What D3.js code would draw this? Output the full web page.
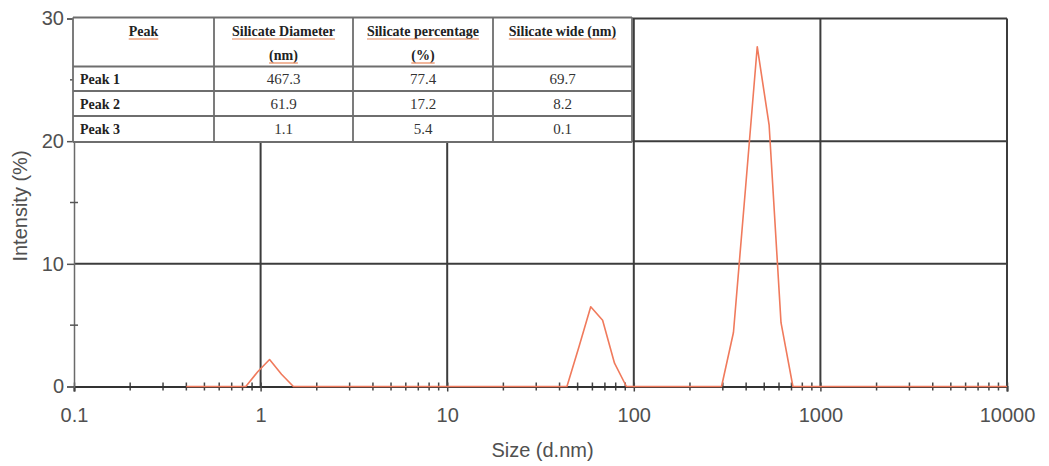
<!DOCTYPE html>
<html>
<head>
<meta charset="utf-8">
<script src="https://cdn.jsdelivr.net/npm/d3@7"></script>
<style>
  html, body { margin: 0; padding: 0; background: #fff; }
  svg { display: block; }
</style>
</head>
<body>
<svg id="chart" width="1049" height="466"></svg>
<script>
// Size distribution bins (d.nm) and intensity (%) per bin
const sizeBins = [0.4, 0.4632, 0.5365, 0.6213, 0.7195, 0.8332, 0.9649, 1.117, 1.294, 1.499,
  1.736, 2.01, 2.328, 2.696, 3.122, 3.615, 4.187, 4.849, 5.615, 6.503,
  7.531, 8.721, 10.1, 11.7, 13.54, 15.69, 18.17, 21.04, 24.36, 28.21,
  32.67, 37.84, 43.82, 50.75, 58.77, 68.06, 78.82, 91.28, 105.7, 122.4,
  141.8, 164.2, 190.1, 220.2, 255.0, 295.3, 342.0, 396.1, 458.7, 531.2,
  615.1, 712.4, 825.0, 955.4, 1106, 1281, 1484, 1718, 1990, 2305,
  2669, 3091, 3580, 4145, 4801, 5560, 6439, 7456, 8635, 10000];
const intensity = [0, 0, 0, 0, 0, 0, 1.2, 2.2, 1.0, 0,
  0, 0, 0, 0, 0, 0, 0, 0, 0, 0,
  0, 0, 0, 0, 0, 0, 0, 0, 0, 0,
  0, 0, 0, 3.2, 6.5, 5.4, 1.9, 0, 0, 0,
  0, 0, 0, 0, 0, 0, 4.4, 16.0, 27.7, 21.3,
  5.2, 0, 0, 0, 0, 0, 0, 0, 0, 0,
  0, 0, 0, 0, 0, 0, 0, 0, 0, 0];

// Axis ticks
const xMajorTicks = [0.1, 1, 10, 100, 1000, 10000];
const xTickLabels = ["0.1", "1", "10", "100", "1000", "10000"];
const yMajorTicks = [0, 10, 20, 30];
const yMinorTicks = [5, 15, 25];

// Peak summary table
const tableHeader = [["Peak"], ["Silicate Diameter", "(nm)"], ["Silicate percentage", "(%)"], ["Silicate wide (nm)"]];
const peakNames = ["Peak 1", "Peak 2", "Peak 3"];
const peakDiameter = ["467.3", "61.9", "1.1"];
const peakPercentage = ["77.4", "17.2", "5.4"];
const peakWidth = ["69.7", "8.2", "0.1"];

const svg = d3.select("#chart");
const W = 1049, H = 466;
const plot = { left: 74, right: 1007, top: 18.5, bottom: 386.5 };

svg.append("rect").attr("width", W).attr("height", H).attr("fill", "#fff");

const x = d3.scaleLog().domain([0.1, 10000]).range([plot.left, plot.right]);
const y = d3.scaleLinear().domain([0, 30]).range([plot.bottom, plot.top]);

const gridColor = "#3c3c3c";
const labelFont = "'Liberation Sans', Arial, sans-serif";

// Grid: horizontal at major y values, vertical at decades
const grid = svg.append("g");
grid.selectAll("line.h").data(yMajorTicks.filter(d => d > 0)).join("line")
  .attr("x1", plot.left).attr("x2", plot.right)
  .attr("y1", d => y(d)).attr("y2", d => y(d))
  .attr("stroke", gridColor).attr("stroke-width", 2);
grid.selectAll("line.v").data(xMajorTicks.filter(d => d > 0.1)).join("line")
  .attr("x1", d => x(d)).attr("x2", d => x(d))
  .attr("y1", y(0)).attr("y2", y(30))
  .attr("stroke", gridColor).attr("stroke-width", 2);

// Minor x ticks (2..9 of each decade), crossing the baseline
const xMinor = [];
for (let e = -1; e < 4; e++) for (let m = 2; m <= 9; m++) xMinor.push(m * Math.pow(10, e));
svg.append("g").selectAll("line").data(xMinor).join("line")
  .attr("x1", d => x(d)).attr("x2", d => x(d))
  .attr("y1", y(0) - 4).attr("y2", y(0) + 4)
  .attr("stroke", "#444").attr("stroke-width", 1.5);

// X axis
const xAxis = svg.append("g")
  .attr("transform", `translate(0,${y(0)})`)
  .call(d3.axisBottom(x).tickValues(xMajorTicks).tickSize(5).tickPadding(16)
    .tickFormat((d, i) => xTickLabels[i]));
xAxis.select(".domain").attr("stroke", "#333").attr("stroke-width", 2);
xAxis.selectAll(".tick line").attr("stroke", "#444").attr("stroke-width", 1.5)
  .attr("y1", -4);
xAxis.selectAll(".tick text").attr("font-family", labelFont).attr("font-size", 20)
  .attr("fill", "#505050");

// Y axis
const yAxis = svg.append("g")
  .attr("transform", `translate(${plot.left},0)`)
  .call(d3.axisLeft(y).tickValues(yMajorTicks).tickSize(7).tickPadding(3));
yAxis.select(".domain").attr("stroke", "#6a6a6a").attr("stroke-width", 1.5);
yAxis.selectAll(".tick line").attr("stroke", "#555").attr("stroke-width", 1.5);
yAxis.selectAll(".tick text").attr("font-family", labelFont).attr("font-size", 20)
  .attr("fill", "#505050");
svg.append("g").selectAll("line").data(yMinorTicks).join("line")
  .attr("x1", plot.left - 4).attr("x2", plot.left + 4)
  .attr("y1", d => y(d)).attr("y2", d => y(d))
  .attr("stroke", "#555").attr("stroke-width", 1.5);

// Axis titles
svg.append("text").attr("x", (plot.left + plot.right) / 2 + 2).attr("y", 457)
  .attr("text-anchor", "middle").attr("font-family", labelFont).attr("font-size", 20)
  .attr("fill", "#505050").text("Size (d.nm)");
svg.append("text").attr("transform", "translate(27,206) rotate(-90)")
  .attr("text-anchor", "middle").attr("font-family", labelFont).attr("font-size", 20)
  .attr("fill", "#505050").text("Intensity (%)");

// Distribution curve
const line = d3.line().x(d => x(d[0])).y(d => y(d[1]));
svg.append("path")
  .datum(sizeBins.map((s, i) => [s, intensity[i]]))
  .attr("d", line).attr("fill", "none")
  .attr("stroke", "#f07a5c").attr("stroke-width", 1.6)
  .attr("stroke-linejoin", "round");

// Summary table drawn over the upper-left of the plot
const colEdges = [73, 214, 353, 493, 632];
const rowEdges = [17.5, 66.5, 91, 116, 142];
const tableFont = "'Liberation Serif', 'Times New Roman', serif";
const tbl = svg.append("g");
tbl.append("rect").attr("x", colEdges[0]).attr("y", rowEdges[0])
  .attr("width", colEdges[4] - colEdges[0]).attr("height", rowEdges[4] - rowEdges[0])
  .attr("fill", "#fff");
tbl.selectAll("line.r").data(rowEdges).join("line")
  .attr("x1", colEdges[0]).attr("x2", colEdges[4])
  .attr("y1", d => d).attr("y2", d => d)
  .attr("stroke", "#6e6e6e").attr("stroke-width", 1.8);
tbl.selectAll("line.c").data(colEdges).join("line")
  .attr("x1", d => d).attr("x2", d => d)
  .attr("y1", rowEdges[0]).attr("y2", rowEdges[4])
  .attr("stroke", "#6e6e6e").attr("stroke-width", 1.8);

// Header cells, with the underline under each heading
const headerLineY = [36, 60];
tableHeader.forEach((lines, c) => {
  const cx = (colEdges[c] + colEdges[c + 1]) / 2;
  lines.forEach((t, k) => {
    const txt = tbl.append("text").attr("x", cx).attr("y", headerLineY[k])
      .attr("text-anchor", "middle").attr("font-family", tableFont)
      .attr("font-size", 14).attr("font-weight", "bold").attr("fill", "#222").text(t);
    const w = txt.node().getComputedTextLength();
    tbl.append("line").attr("x1", cx - w / 2).attr("x2", cx + w / 2)
      .attr("y1", headerLineY[k] + 3).attr("y2", headerLineY[k] + 3)
      .attr("stroke", "#e8875a").attr("stroke-width", 1.2);
  });
});

// Body rows
const bodyCols = [peakDiameter, peakPercentage, peakWidth];
peakNames.forEach((name, r) => {
  const by = (rowEdges[r + 1] + rowEdges[r + 2]) / 2 + 5;
  tbl.append("text").attr("x", colEdges[0] + 7).attr("y", by)
    .attr("font-family", tableFont).attr("font-size", 14).attr("font-weight", "bold")
    .attr("fill", "#222").text(name);
  bodyCols.forEach((col, c) => {
    tbl.append("text").attr("x", (colEdges[c + 1] + colEdges[c + 2]) / 2).attr("y", by)
      .attr("text-anchor", "middle").attr("font-family", tableFont).attr("font-size", 15)
      .attr("fill", "#333").text(col[r]);
  });
});
</script>
</body>
</html>
